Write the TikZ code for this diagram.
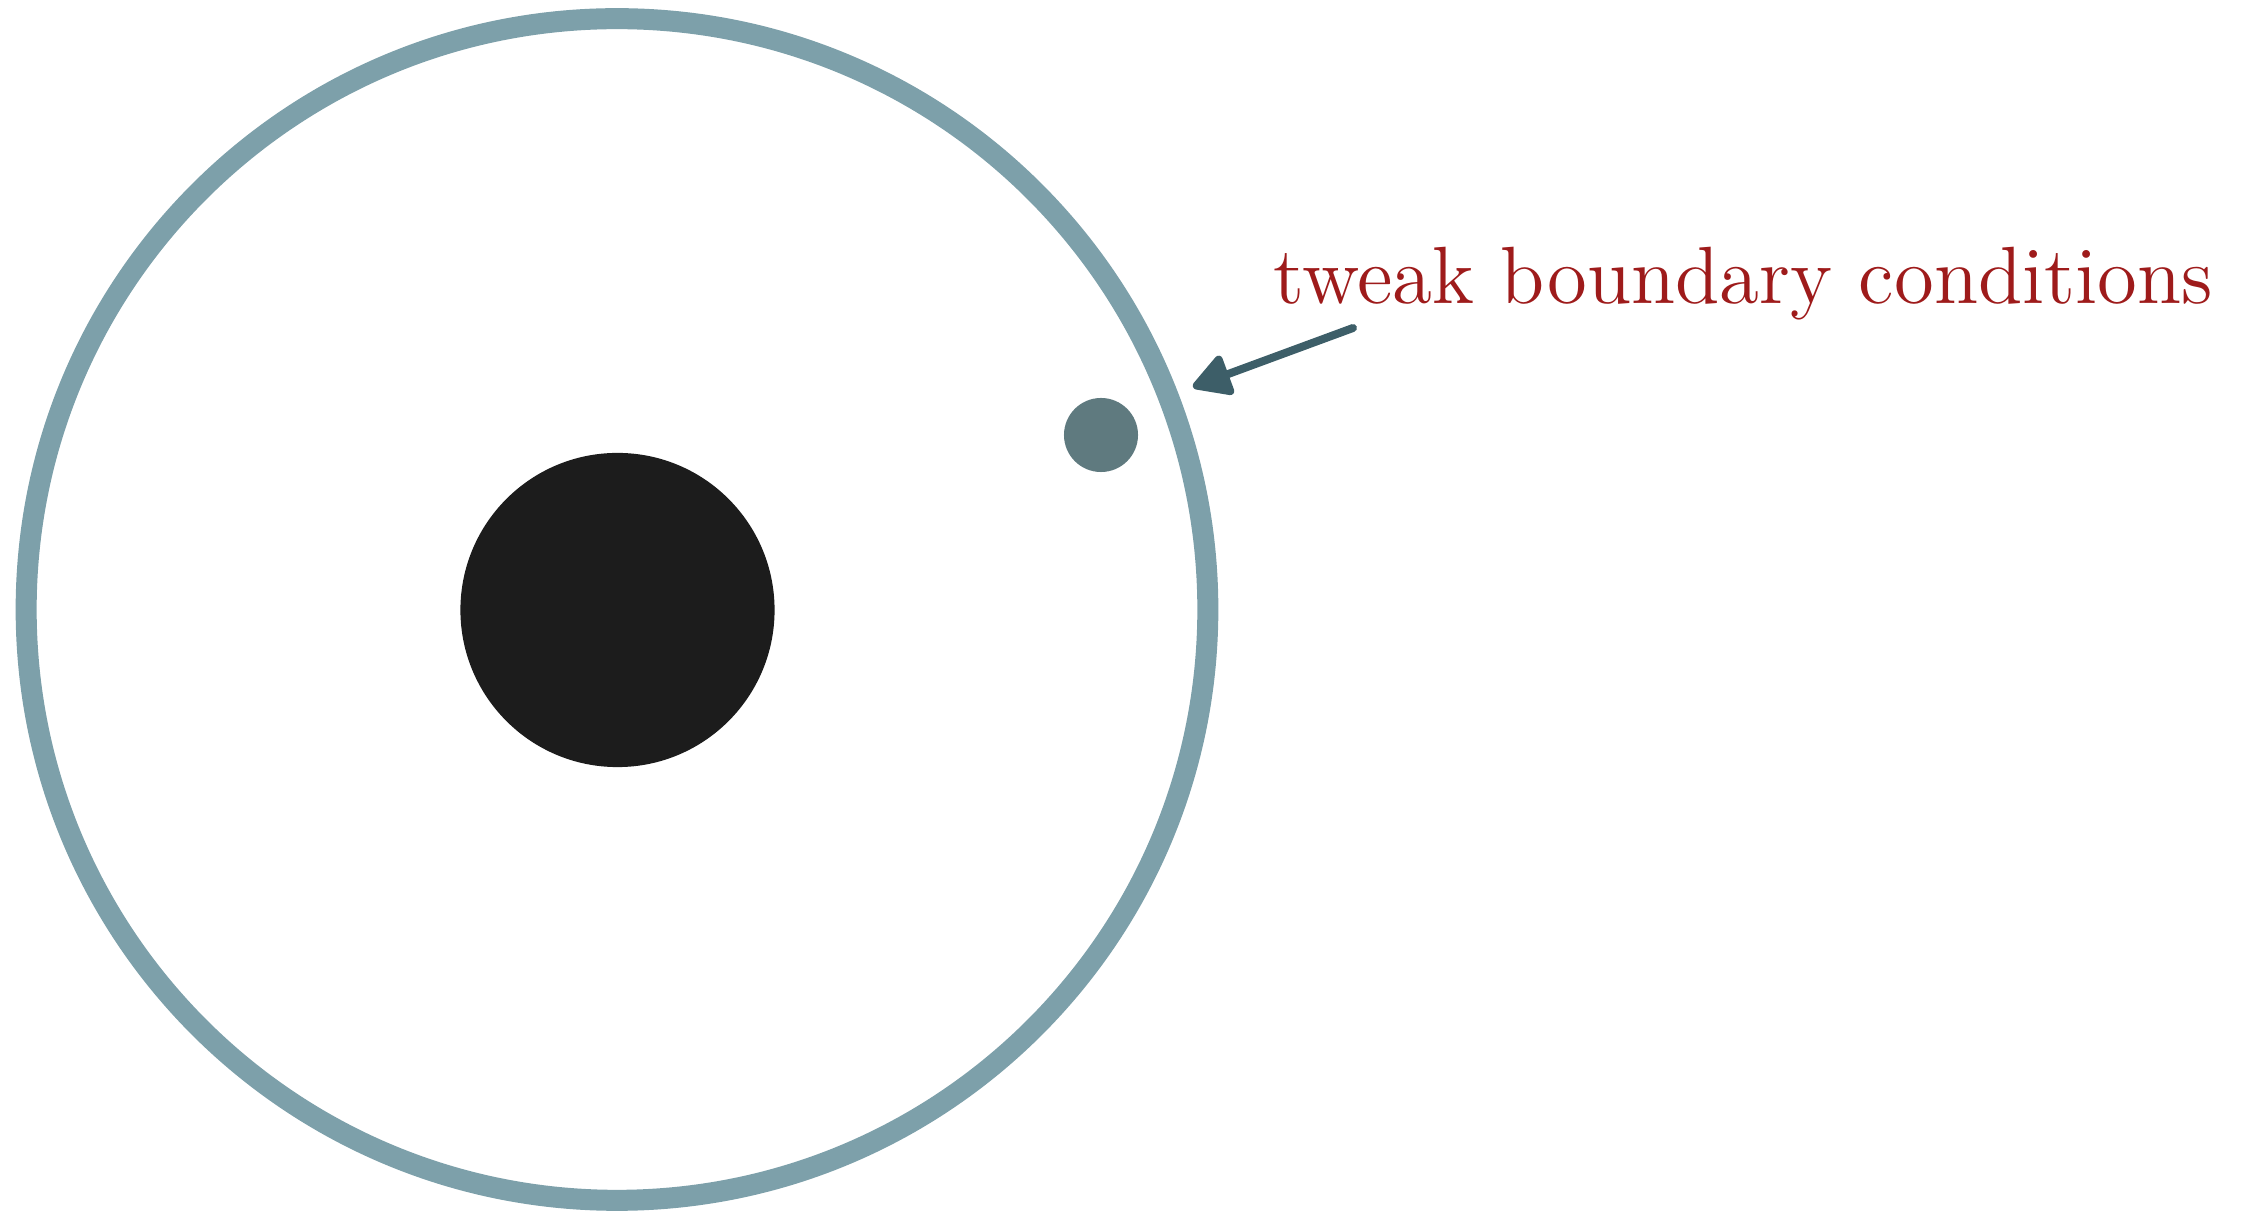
\documentclass[tikz,border=0pt]{standalone}
\usepackage{tikz}
\usepackage{xcolor}
\usetikzlibrary{arrows.meta}
\definecolor{Ring_Blue}{HTML}{7DA0AA}
\definecolor{Dot_Slate}{HTML}{5F7A7F}
\definecolor{Arrow_Teal}{HTML}{3D5E68}
\definecolor{Core_Black}{HTML}{1C1C1C}
\definecolor{Note_Red}{HTML}{9E1B1B}

\begin{document}
\begin{tikzpicture}[x=0.01cm, y=-0.01cm]
    \useasboundingbox (0,0) rectangle (2247,1213);

    % outer boundary
    \node[circle, draw=Ring_Blue, line width=0.21cm, minimum size=11.81cm, inner sep=0] (ring) at (617,609.5) {};
    % central body
    \node[circle, fill=Core_Black, minimum size=3.14cm, inner sep=0] (core) at (617.5,610) {};
    % small particle near the boundary
    \node[circle, fill=Dot_Slate, minimum size=0.74cm, inner sep=0] (dot) at (1101,435) {};

    % annotation
    \node[anchor=base west, inner sep=0, text=Note_Red, scale=1.925, font=\fontsize{12}{14}\selectfont] (note) at (1272,304) {tweak boundary conditions};
    \coordinate (tail) at (1353,328);
    \coordinate (tip) at (1193,387);
    \draw[Arrow_Teal, line width=0.08cm, line cap=round,
          -{Triangle[round, length=0.42cm, width=0.45cm]}] (tail) -- (tip);
\end{tikzpicture}
\end{document}
